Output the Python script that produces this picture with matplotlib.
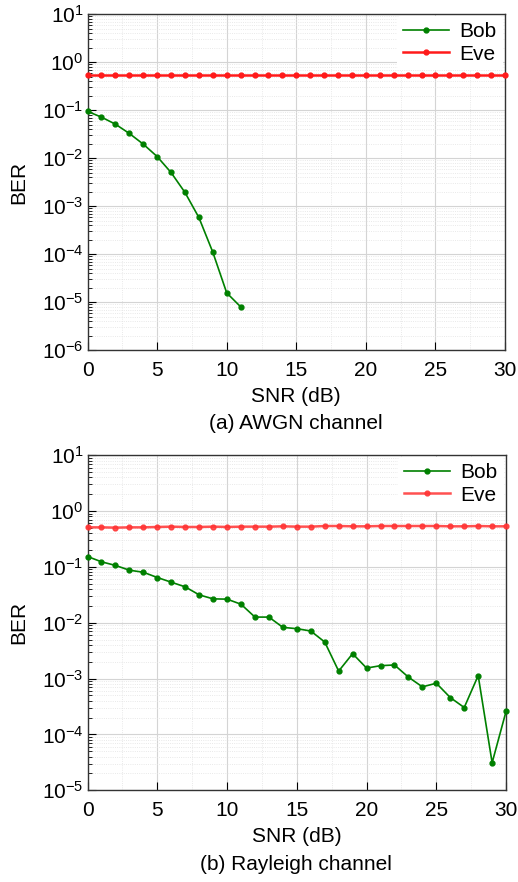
import numpy as np
import matplotlib
matplotlib.use('Agg')
import matplotlib.pyplot as plt
from matplotlib.ticker import LogLocator, NullFormatter, MultipleLocator

plt.rcParams['font.family'] = ['Liberation Sans', 'DejaVu Sans']
plt.rcParams['mathtext.fontset'] = 'custom'
plt.rcParams['mathtext.rm'] = 'Liberation Sans'

# SNR (dB)
snr = list(range(0, 31))

# (a) AWGN channel
snr_awgn_bob = list(range(0, 12))
ber_awgn_bob = [0.094, 0.0714, 0.051, 0.0327, 0.0196, 0.0108, 0.00502,
                0.00193, 5.8e-4, 1.1e-4, 1.56e-5, 8.0e-6]
ber_awgn_eve = [0.527] * 31

# (b) Rayleigh channel
ber_ray_bob = [0.153, 0.123, 0.106, 0.087, 0.080, 0.0644, 0.0531, 0.0438,
               0.0315, 0.0267, 0.0264, 0.0214, 0.0126, 0.0126, 0.00825,
               0.00781, 0.0071, 0.00451, 0.00136, 0.00279, 0.00154, 0.0017,
               0.00175, 0.00106, 7.1e-4, 8.25e-4, 4.57e-4, 3.03e-4, 1.13e-3,
               3.11e-5, 2.6e-4]
ber_ray_eve = [0.509, 0.509, 0.503, 0.509, 0.509, 0.517, 0.524, 0.517,
               0.517, 0.524, 0.517, 0.524, 0.524, 0.524, 0.531, 0.524,
               0.524, 0.538, 0.538, 0.531, 0.531, 0.538, 0.538, 0.538,
               0.538, 0.538, 0.531, 0.531, 0.538, 0.531, 0.531]

fig = plt.figure(figsize=(5.18, 8.82), dpi=100)
ax1 = fig.add_axes([0.169, 0.603, 0.806, 0.381])
ax2 = fig.add_axes([0.169, 0.104, 0.808, 0.380])

FS = 15


def style(ax, ylim):
    ax.set_yscale('log')
    ax.set_xlim(0, 30)
    ax.set_ylim(*ylim)
    ax.xaxis.set_major_locator(MultipleLocator(5))
    ax.xaxis.set_minor_locator(MultipleLocator(2.5))
    ax.yaxis.set_major_locator(LogLocator(base=10, numticks=20))
    ax.yaxis.set_minor_locator(LogLocator(base=10, subs=np.arange(2, 10), numticks=20))
    ax.yaxis.set_minor_formatter(NullFormatter())
    ax.grid(True, which='major', color='#d4d4d4', lw=0.8)
    ax.grid(True, which='minor', color='#e2e2e2', lw=0.6, ls=':')
    ax.tick_params(which='both', direction='in', labelsize=FS, top=False, right=False)
    ax.tick_params(which='major', length=6, pad=3)
    ax.tick_params(axis='x', which='major', pad=8)
    ax.tick_params(which='minor', length=3)
    ax.tick_params(axis='x', which='minor', length=0)
    for s in ax.spines.values():
        s.set_color('#333333')
        s.set_linewidth(1.0)
    ax.set_xlabel('SNR (dB)', fontsize=FS, labelpad=5)
    ax.set_ylabel('BER', fontsize=FS, labelpad=10)
    ax.set_axisbelow(True)


ax1.plot(snr_awgn_bob, ber_awgn_bob, '-o', color='green', lw=1.2, ms=3.5,
         label='Bob', clip_on=False, zorder=3)
ax1.plot(snr, ber_awgn_eve, '-o', color='#ff1a1a', lw=1.8, ms=3.5,
         label='Eve', clip_on=False, zorder=3)
style(ax1, (1e-6, 10))

ax2.plot(snr, ber_ray_bob, '-o', color='green', lw=1.2, ms=3.5,
         label='Bob', clip_on=False, zorder=3)
ax2.plot(snr, ber_ray_eve, '-o', color='#ff3333', lw=1.8, ms=3.5,
         label='Eve', clip_on=False, zorder=3, alpha=0.85)
style(ax2, (1e-5, 10))

fig.text(0.572, 1 - 424 / 882, '(a) AWGN channel', ha='center', va='center', fontsize=FS)
fig.text(0.572, 1 - 864 / 882, '(b) Rayleigh channel', ha='center', va='center', fontsize=FS)

for ax in (ax1, ax2):
    leg = ax.legend(loc='upper right', fontsize=FS, frameon=True,
                    handlelength=2.2, borderpad=0.3, labelspacing=0.15,
                    handletextpad=0.5, borderaxespad=0.1)
    leg.get_frame().set_edgecolor('none')
    leg.get_frame().set_facecolor('white')
    leg.get_frame().set_alpha(1)

fig.savefig('out.png', dpi=100)
